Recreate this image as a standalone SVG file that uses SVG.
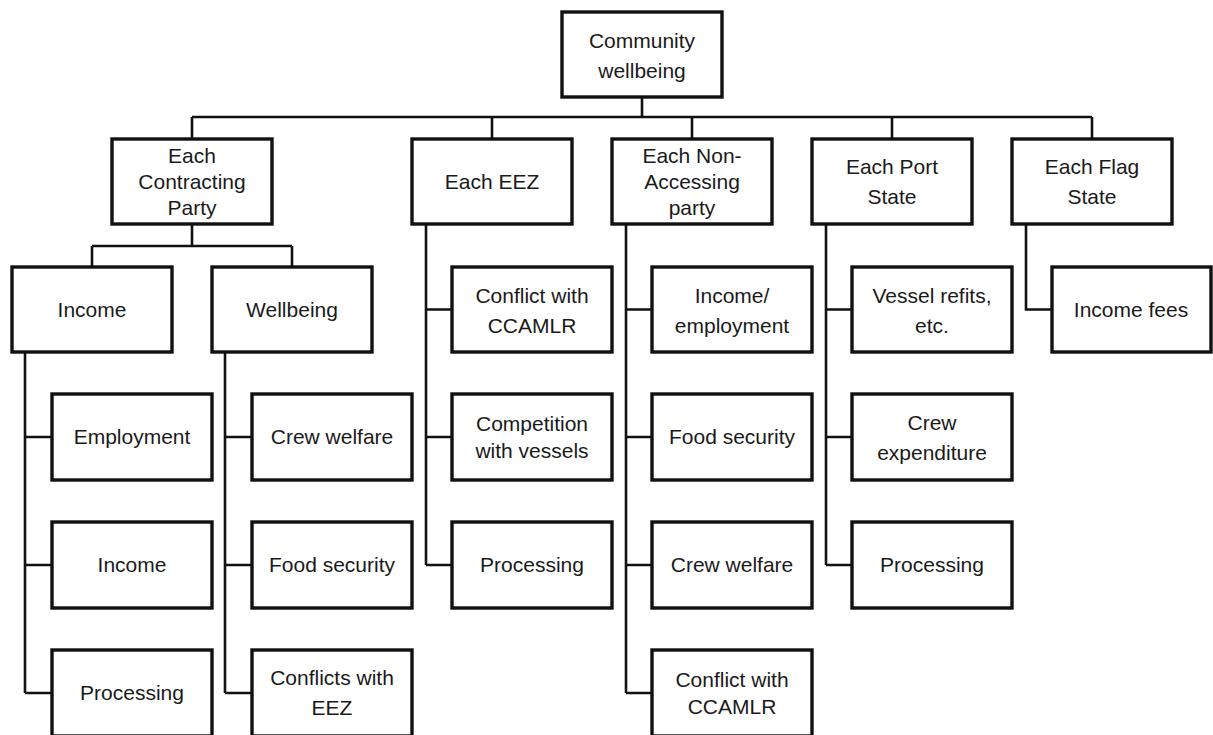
<svg xmlns="http://www.w3.org/2000/svg" width="1213" height="735" viewBox="0 0 1213 735">
  <style>
    .box { fill: #ffffff; stroke: #111111; stroke-width: 3.4; }
    .lbl { font-family: "Liberation Sans", Arial, sans-serif; font-size: 21px; fill: #1a1a1a; text-anchor: middle; }
    .wire { fill: none; stroke: #111111; stroke-width: 2.6; stroke-linejoin: miter; }
  </style>
  <rect width="1213" height="735" fill="#ffffff"/>

  <!-- connectors -->
  <g id="connectors" class="wire">
    <!-- root to first level -->
    <path d="M642 97 V117 M192 117 H1092 M192 117 V139 M492 117 V139 M692 117 V139 M892 117 V139 M1092 117 V139"/>
    <!-- contracting party to income / wellbeing -->
    <path d="M192 224 V246 M92 246 H292 M92 246 V267 M292 246 V267"/>
    <!-- income children -->
    <path d="M25 352 V693 M25 437 H52 M25 565 H52 M25 693 H52"/>
    <!-- wellbeing children -->
    <path d="M225 352 V693 M225 437 H252 M225 565 H252 M225 693 H252"/>
    <!-- EEZ children -->
    <path d="M426 224 V565 M426 309.5 H452 M426 437 H452 M426 565 H452"/>
    <!-- non-accessing party children -->
    <path d="M626 224 V693 M626 309.5 H652 M626 437 H652 M626 565 H652 M626 693 H652"/>
    <!-- port state children -->
    <path d="M826 224 V565 M826 309.5 H852 M826 437 H852 M826 565 H852"/>
    <!-- flag state child -->
    <path d="M1026 224 V309.5 H1052"/>
  </g>

  <!-- root -->
  <g id="community-wellbeing">
    <rect class="box" x="562" y="12" width="160" height="85"/>
    <text class="lbl" x="642" y="48">Community</text>
    <text class="lbl" x="642" y="78">wellbeing</text>
  </g>

  <!-- first level -->
  <g id="contracting-party">
    <rect class="box" x="112" y="139" width="160" height="85"/>
    <text class="lbl" x="192" y="163">Each</text>
    <text class="lbl" x="192" y="189">Contracting</text>
    <text class="lbl" x="192" y="215">Party</text>
  </g>
  <g id="eez">
    <rect class="box" x="412" y="139" width="160" height="85"/>
    <text class="lbl" x="492" y="189">Each EEZ</text>
  </g>
  <g id="non-accessing">
    <rect class="box" x="612" y="139" width="160" height="85"/>
    <text class="lbl" x="692" y="163">Each Non-</text>
    <text class="lbl" x="692" y="189">Accessing</text>
    <text class="lbl" x="692" y="215">party</text>
  </g>
  <g id="port-state">
    <rect class="box" x="812" y="139" width="160" height="85"/>
    <text class="lbl" x="892" y="174">Each Port</text>
    <text class="lbl" x="892" y="204">State</text>
  </g>
  <g id="flag-state">
    <rect class="box" x="1012" y="139" width="160" height="85"/>
    <text class="lbl" x="1092" y="174">Each Flag</text>
    <text class="lbl" x="1092" y="204">State</text>
  </g>

  <!-- contracting party: second level -->
  <g id="cp-income">
    <rect class="box" x="12" y="267" width="160" height="85"/>
    <text class="lbl" x="92" y="317">Income</text>
  </g>
  <g id="cp-wellbeing">
    <rect class="box" x="212" y="267" width="160" height="85"/>
    <text class="lbl" x="292" y="317">Wellbeing</text>
  </g>

  <!-- income leaves -->
  <g id="cp-employment">
    <rect class="box" x="52" y="394" width="160" height="86"/>
    <text class="lbl" x="132" y="444">Employment</text>
  </g>
  <g id="cp-income-leaf">
    <rect class="box" x="52" y="522" width="160" height="86"/>
    <text class="lbl" x="132" y="572">Income</text>
  </g>
  <g id="cp-processing">
    <rect class="box" x="52" y="650" width="160" height="86"/>
    <text class="lbl" x="132" y="700">Processing</text>
  </g>

  <!-- wellbeing leaves -->
  <g id="cp-crew-welfare">
    <rect class="box" x="252" y="394" width="160" height="86"/>
    <text class="lbl" x="332" y="444">Crew welfare</text>
  </g>
  <g id="cp-food-security">
    <rect class="box" x="252" y="522" width="160" height="86"/>
    <text class="lbl" x="332" y="572">Food security</text>
  </g>
  <g id="cp-conflicts-eez">
    <rect class="box" x="252" y="650" width="160" height="86"/>
    <text class="lbl" x="332" y="685">Conflicts with</text>
    <text class="lbl" x="332" y="715">EEZ</text>
  </g>

  <!-- EEZ leaves -->
  <g id="eez-conflict">
    <rect class="box" x="452" y="267" width="160" height="85"/>
    <text class="lbl" x="532" y="303">Conflict with</text>
    <text class="lbl" x="532" y="333">CCAMLR</text>
  </g>
  <g id="eez-competition">
    <rect class="box" x="452" y="394" width="160" height="86"/>
    <text class="lbl" x="532" y="431">Competition</text>
    <text class="lbl" x="532" y="458">with vessels</text>
  </g>
  <g id="eez-processing">
    <rect class="box" x="452" y="522" width="160" height="86"/>
    <text class="lbl" x="532" y="572">Processing</text>
  </g>

  <!-- non-accessing party leaves -->
  <g id="na-income">
    <rect class="box" x="652" y="267" width="160" height="85"/>
    <text class="lbl" x="732" y="303">Income/</text>
    <text class="lbl" x="732" y="333">employment</text>
  </g>
  <g id="na-food-security">
    <rect class="box" x="652" y="394" width="160" height="86"/>
    <text class="lbl" x="732" y="444">Food security</text>
  </g>
  <g id="na-crew-welfare">
    <rect class="box" x="652" y="522" width="160" height="86"/>
    <text class="lbl" x="732" y="572">Crew welfare</text>
  </g>
  <g id="na-conflict">
    <rect class="box" x="652" y="650" width="160" height="86"/>
    <text class="lbl" x="732" y="687">Conflict with</text>
    <text class="lbl" x="732" y="714">CCAMLR</text>
  </g>

  <!-- port state leaves -->
  <g id="ps-refits">
    <rect class="box" x="852" y="267" width="160" height="85"/>
    <text class="lbl" x="932" y="303">Vessel refits,</text>
    <text class="lbl" x="932" y="333">etc.</text>
  </g>
  <g id="ps-crew-expenditure">
    <rect class="box" x="852" y="394" width="160" height="86"/>
    <text class="lbl" x="932" y="430">Crew</text>
    <text class="lbl" x="932" y="460">expenditure</text>
  </g>
  <g id="ps-processing">
    <rect class="box" x="852" y="522" width="160" height="86"/>
    <text class="lbl" x="932" y="572">Processing</text>
  </g>

  <!-- flag state leaf -->
  <g id="fs-income-fees">
    <rect class="box" x="1052" y="267" width="159" height="85"/>
    <text class="lbl" x="1131" y="317">Income fees</text>
  </g>
</svg>
